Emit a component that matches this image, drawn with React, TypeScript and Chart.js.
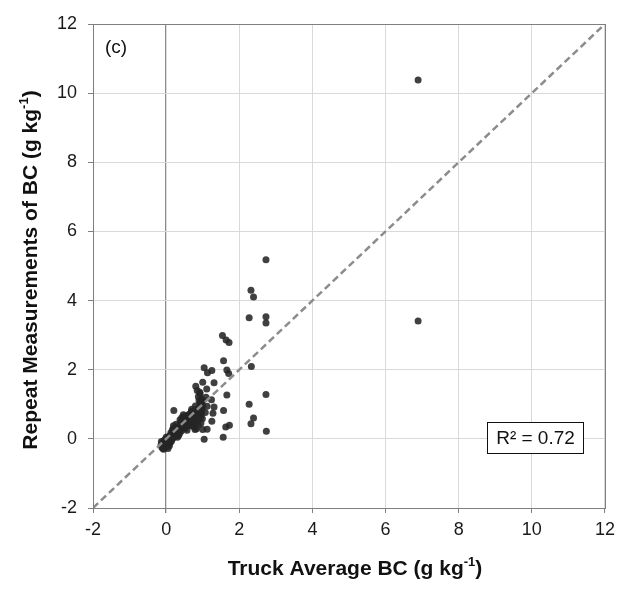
import React, { useEffect, useRef } from "react";
import { Chart, registerables } from "chart.js";

Chart.register(...registerables);

// Truck average BC (x) and repeat measurement BC (y), g/kg
const truckAvg: number[] = [
  6.89, 6.89, 2.73, 2.32, 2.39, 2.27, 2.73, 2.73, 1.54, 1.64, 1.72, 1.57, 1.04, 1.13, 1.25, 1.66, 1.71, 2.33,
  1.0, 1.31, 0.81, 1.11, 0.85, 0.93, 1.66, 2.73, 1.09, 1.24, 0.94, 2.27, 1.12, 1.31, 1.57, 0.21, 0.7, 1.07,
  2.39, 2.32, 1.25, 1.73, 1.63, 0.83, 1.0, 1.12, 2.74, 1.56, 1.04, 1.28, 0.79,
  -0.12, -0.08, -0.05, -0.1, -0.03, 0.0, 0.02, -0.06, 0.04, 0.06, 0.08, -0.02, 0.1, 0.03, 0.12, -0.13, 0.05, 0.09, -0.07, 0.14,
  0.15, 0.18, 0.2, 0.13, 0.22, 0.25, 0.17, 0.28, 0.3, 0.24, 0.33, 0.35, 0.2, 0.27, 0.38, 0.4, 0.31, 0.36, 0.11, 0.19,
  0.42, 0.45, 0.48, 0.5, 0.38, 0.43, 0.53, 0.55, 0.58, 0.6, 0.47, 0.62, 0.65, 0.52, 0.66, 0.7, 0.57, 0.68,
  0.72, 0.75, 0.78, 0.8, 0.82, 0.85, 0.88, 0.9, 0.92, 0.95, 0.98, 0.74, 0.86, 0.96, 0.8, 0.93, 0.99, 0.76, 0.88, 0.95,
  0.9, 0.95, 0.88, 0.97, 0.92, 1.0,
  -0.14, -0.11, -0.04, 0.01, 0.07, 0.11, 0.0, 0.06, 0.16, 0.14, 0.21, 0.23, 0.26, 0.29, 0.32, 0.34, 0.37, 0.39, 0.41, 0.44,
  0.46, 0.49, 0.51, 0.54, 0.56, 0.59, 0.61, 0.63, 0.67, 0.69, 0.71, 0.73, 0.77, 0.79, 0.83, 0.87, 0.91, 0.94, 0.97, 1.0,
];
const repeatMeas: number[] = [
  10.38, 3.41, 5.18, 4.3, 4.1, 3.5, 3.53, 3.35, 2.99, 2.86, 2.79, 2.26, 2.06, 1.91, 1.98, 1.99, 1.89, 2.09,
  1.64, 1.62, 1.52, 1.44, 1.4, 1.3, 1.27, 1.28, 1.2, 1.13, 1.08, 1.0, 0.94, 0.92, 0.82, 0.82, 0.86, 0.76,
  0.6, 0.44, 0.51, 0.39, 0.34, 0.29, 0.27, 0.28, 0.22, 0.05, -0.01, 0.74, 0.27,
  -0.22, -0.28, -0.18, -0.12, -0.25, -0.15, -0.22, -0.05, -0.1, -0.18, -0.05, -0.02, -0.12, 0.02, 0.0, -0.08, -0.28, -0.2, -0.3, -0.08,
  0.08, 0.02, 0.15, 0.18, 0.06, 0.2, 0.25, 0.12, 0.28, 0.32, 0.2, 0.35, 0.38, 0.42, 0.25, 0.4, 0.05, 0.14, 0.1, 0.3,
  0.5, 0.33, 0.45, 0.58, 0.55, 0.62, 0.4, 0.52, 0.65, 0.45, 0.7, 0.58, 0.72, 0.3, 0.5, 0.62, 0.25, 0.38,
  0.75, 0.55, 0.68, 0.8, 0.6, 0.72, 0.88, 0.65, 0.78, 0.92, 0.85, 0.45, 0.5, 0.7, 0.95, 1.0, 0.58, 0.35, 0.4, 0.45,
  1.1, 1.15, 1.22, 1.05, 1.35, 1.12,
  -0.18, -0.26, -0.1, -0.06, -0.12, -0.03, 0.05, 0.06, -0.02, 0.12, 0.1, 0.26, 0.08, 0.22, 0.34, 0.1, 0.3, 0.46, 0.22, 0.42,
  0.55, 0.36, 0.66, 0.47, 0.6, 0.38, 0.7, 0.5, 0.62, 0.8, 0.52, 0.66, 0.78, 0.6, 0.85, 0.68, 0.9, 0.62, 0.8, 0.95,
];
const oneToOne: number[] = [-2, 12];
const axisMin = -2;
const axisMax = 12;
const tickStep = 2;
const panelLabel = "(c)";
const r2Label = "R² = 0.72";
const xTitle = ["Truck Average BC (g kg", "-1", ")"];
const yTitle = ["Repeat Measurements of BC (g kg", "-1", ")"];

const FONT = "'Liberation Sans', Arial, sans-serif";

function drawSupTitle(ctx: CanvasRenderingContext2D, parts: string[], cx: number, cy: number, rot: number) {
  ctx.save();
  ctx.translate(cx, cy);
  ctx.rotate(rot);
  const mainFont = `bold 21px ${FONT}`;
  const supFont = `bold 13px ${FONT}`;
  ctx.font = mainFont;
  const w0 = ctx.measureText(parts[0]).width;
  const w2 = ctx.measureText(parts[2]).width;
  ctx.font = supFont;
  const w1 = ctx.measureText(parts[1]).width;
  const total = w0 + w1 + w2;
  let x = -total / 2;
  ctx.fillStyle = "#111";
  ctx.textBaseline = "alphabetic";
  ctx.textAlign = "left";
  ctx.font = mainFont;
  ctx.fillText(parts[0], x, 7);
  x += w0;
  ctx.font = supFont;
  ctx.fillText(parts[1], x, -2);
  x += w1;
  ctx.font = mainFont;
  ctx.fillText(parts[2], x, 7);
  ctx.restore();
}

const decorPlugin = {
  id: "decor",
  afterDraw(chart: any) {
    const { ctx, chartArea } = chart;
    const { left, right, top, bottom } = chartArea;
    ctx.save();
    // plot border
    ctx.strokeStyle = "#7f7f7f";
    ctx.lineWidth = 1;
    ctx.strokeRect(Math.round(left) + 0.5, Math.round(top) + 0.5, Math.round(right - left), Math.round(bottom - top));
    // panel label
    ctx.fillStyle = "#111";
    ctx.font = `19px ${FONT}`;
    ctx.textAlign = "left";
    ctx.textBaseline = "middle";
    ctx.fillText(panelLabel, left + 12, top + 24);
    // R2 box
    const bx = 487.5, by = 422.5, bw = 96, bh = 31;
    ctx.fillStyle = "#fff";
    ctx.fillRect(bx, by, bw, bh);
    ctx.strokeStyle = "#111";
    ctx.strokeRect(bx, by, bw, bh);
    ctx.fillStyle = "#111";
    ctx.font = `19px ${FONT}`;
    ctx.textAlign = "center";
    ctx.fillText(r2Label, bx + bw / 2, by + bh / 2 + 1);
    // axis titles
    drawSupTitle(ctx, xTitle, (left + right) / 2 + 6, 568, 0);
    drawSupTitle(ctx, yTitle, 30, 270, -Math.PI / 2);
    ctx.restore();
  },
};

export default function App() {
  const ref = useRef<HTMLCanvasElement>(null);
  useEffect(() => {
    const canvas = ref.current;
    if (!canvas) return;
    const pts = truckAvg.map((x, i) => ({ x, y: repeatMeas[i] }));
    const line = oneToOne.map((v) => ({ x: v, y: v }));
    const tickFont = { family: FONT, size: 18 };
    const chart = new Chart(canvas, {
      type: "scatter",
      data: {
        datasets: [
          {
            type: "line",
            data: line,
            borderColor: "#8c8c8c",
            borderWidth: 2.5,
            borderDash: [7, 4],
            pointRadius: 0,
            fill: false,
            order: 0,
          } as any,
          {
            data: pts,
            backgroundColor: "rgba(38,38,38,0.88)",
            borderWidth: 0,
            pointRadius: 3.5,
            order: 1,
          },
        ],
      },
      options: {
        responsive: false,
        animation: false,
        layout: { padding: { top: 24, right: 16, left: 0, bottom: 0 } },
        plugins: { legend: { display: false }, tooltip: { enabled: false } },
        scales: {
          x: {
            type: "linear",
            min: axisMin,
            max: axisMax,
            ticks: { stepSize: tickStep, font: tickFont, color: "#1a1a1a", padding: 6 },
            grid: {
              color: (c: any) => (c.tick && c.tick.value === 0 ? "#8c8c8c" : "#d9d9d9"),
              lineWidth: (c: any) => (c.tick && c.tick.value === 0 ? 1.3 : 1),
              tickLength: 5,
              tickColor: "#7f7f7f",
            },
            border: { display: true, color: "#7f7f7f" },
            afterFit: (s: any) => {
              s.height = 84;
            },
          },
          y: {
            type: "linear",
            min: axisMin,
            max: axisMax,
            ticks: { stepSize: tickStep, font: tickFont, color: "#1a1a1a", padding: 11 },
            grid: {
              color: "#d9d9d9",
              tickLength: 5,
              tickColor: "#7f7f7f",
            },
            border: { display: true, color: "#7f7f7f" },
            afterFit: (s: any) => {
              s.width = 93;
            },
          },
        },
      } as any,
      plugins: [decorPlugin],
    });
    return () => chart.destroy();
  }, []);
  return (
    <div style={{ position: "fixed", left: 0, top: 0, width: 621, height: 592, background: "#fff" }}>
      <canvas ref={ref} width={621} height={592} style={{ width: 621, height: 592 }} />
    </div>
  );
}
